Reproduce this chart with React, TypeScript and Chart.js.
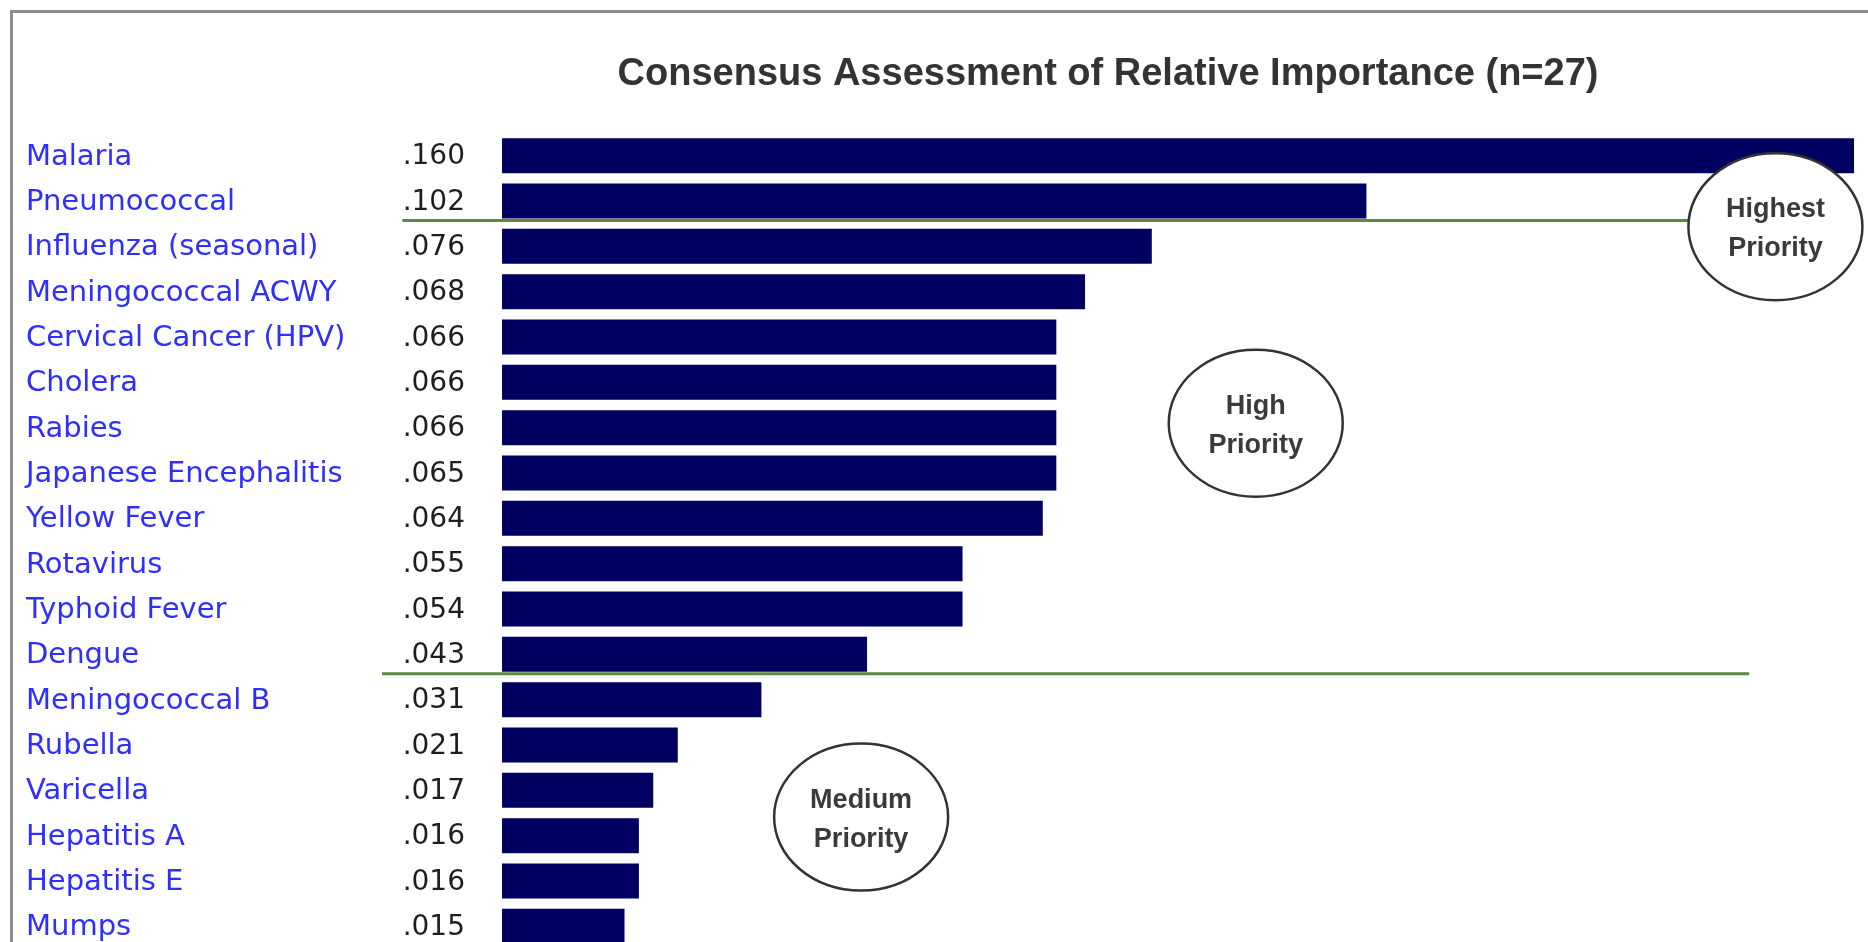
import React, { useEffect, useRef } from 'react';
import { Chart, registerables } from 'chart.js';

Chart.register(...registerables);

const TITLE = 'Consensus Assessment of Relative Importance (n=27)';

const categories = [
  'Malaria',
  'Pneumococcal',
  'Influenza (seasonal)',
  'Meningococcal ACWY',
  'Cervical Cancer (HPV)',
  'Cholera',
  'Rabies',
  'Japanese Encephalitis',
  'Yellow Fever',
  'Rotavirus',
  'Typhoid Fever',
  'Dengue',
  'Meningococcal B',
  'Rubella',
  'Varicella',
  'Hepatitis A',
  'Hepatitis E',
  'Mumps',
];

// bar lengths (unrounded estimates)
const values = [
  0.16, 0.1023, 0.0769, 0.069, 0.0656, 0.0656, 0.0656, 0.0656, 0.064, 0.0545,
  0.0545, 0.0432, 0.0307, 0.0208, 0.0179, 0.0162, 0.0162, 0.0145,
];

// printed value labels
const valueLabels = [
  '.160', '.102', '.076', '.068', '.066', '.066', '.066', '.065', '.064', '.055',
  '.054', '.043', '.031', '.021', '.017', '.016', '.016', '.015',
];

// priority divider lines (category-index position, x start/end in value units)
const dividerRows = [1.43, 11.43];
const dividerStart = [-0.0118, -0.0142];
const dividerEnd = [0.1507, 0.1476];

// priority bubbles
const priorityLines = [
  ['Highest', 'Priority'],
  ['High', 'Priority'],
  ['Medium', 'Priority'],
];
const priorityX = [0.1507, 0.0892, 0.0425];
const priorityY = [1.566, 5.9, 14.59];

const overlayPlugin = {
  id: 'overlay',
  beforeDatasetsDraw(chart: any) {
    const { ctx } = chart;
    const xs = chart.scales.x;
    const ys = chart.scales.y;
    ctx.save();
    // frame
    ctx.strokeStyle = '#8c8c8c';
    ctx.lineWidth = 3;
    ctx.beginPath();
    ctx.moveTo(11.5, chart.height);
    ctx.lineTo(11.5, 11.5);
    ctx.lineTo(chart.width, 11.5);
    ctx.stroke();

    // title
    ctx.fillStyle = '#333333';
    ctx.font = 'bold 38px "Liberation Sans", Arial, sans-serif';
    ctx.textAlign = 'center';
    ctx.textBaseline = 'middle';
    ctx.fillText(TITLE, 1108, 75);

    // category labels and values
    categories.forEach((c, i) => {
      const py = ys.getPixelForValue(i) + 1.5;
      ctx.font = '29px "DejaVu Sans", sans-serif';
      ctx.fillStyle = '#2e2eff';
      ctx.textAlign = 'left';
      ctx.fillText(c, 26, py);
      ctx.font = '28px "DejaVu Sans", sans-serif';
      ctx.fillStyle = '#1e1e1e';
      ctx.textAlign = 'right';
      ctx.fillText(valueLabels[i], 465, py);
    });

    // divider lines
    ctx.strokeStyle = '#5c8a40';
    ctx.lineWidth = 3;
    dividerRows.forEach((r, i) => {
      const py = ys.getPixelForValue(r);
      ctx.beginPath();
      ctx.moveTo(xs.getPixelForValue(dividerStart[i]), py);
      ctx.lineTo(xs.getPixelForValue(dividerEnd[i]), py);
      ctx.stroke();
    });
    ctx.restore();
  },
  afterDatasetsDraw(chart: any) {
    const { ctx } = chart;
    const xs = chart.scales.x;
    const ys = chart.scales.y;
    ctx.save();
    priorityLines.forEach((lines, i) => {
      const cx = xs.getPixelForValue(priorityX[i]);
      const cy = ys.getPixelForValue(priorityY[i]);
      ctx.beginPath();
      ctx.ellipse(cx, cy, 87, 73.5, 0, 0, Math.PI * 2);
      ctx.fillStyle = '#ffffff';
      ctx.fill();
      ctx.strokeStyle = '#333333';
      ctx.lineWidth = 2.5;
      ctx.stroke();
      ctx.fillStyle = '#3a3a3a';
      ctx.font = 'bold 27px "Liberation Sans", Arial, sans-serif';
      ctx.textAlign = 'center';
      ctx.textBaseline = 'middle';
      ctx.fillText(lines[0], cx, cy - 17);
      ctx.fillText(lines[1], cx, cy + 22);
    });
    ctx.restore();
  },
};

export default function App() {
  const canvasRef = useRef<HTMLCanvasElement | null>(null);

  useEffect(() => {
    const canvas = canvasRef.current;
    if (!canvas) return;
    const chart = new Chart(canvas, {
      type: 'bar',
      data: {
        labels: categories,
        datasets: [
          {
            data: values,
            backgroundColor: '#000060',
            borderWidth: 0,
            barPercentage: 0.772,
            categoryPercentage: 1,
          },
        ],
      },
      options: {
        indexAxis: 'y',
        responsive: false,
        animation: false,
        devicePixelRatio: 1,
        layout: { padding: { left: 502, right: 14, top: 133, bottom: 11 } },
        scales: {
          x: { display: false, min: 0, max: 0.16, grid: { display: false } },
          y: { display: false, grid: { display: false } },
        },
        plugins: {
          legend: { display: false },
          title: { display: false },
          tooltip: { enabled: false },
        },
      },
      plugins: [overlayPlugin],
    });
    return () => chart.destroy();
  }, []);

  return (
    <div
      style={{
        position: 'fixed',
        left: 0,
        top: 0,
        width: 1868,
        height: 942,
        overflow: 'hidden',
        background: '#ffffff',
      }}
    >
      <canvas ref={canvasRef} width={1868} height={960} style={{ display: 'block' }} />
    </div>
  );
}
